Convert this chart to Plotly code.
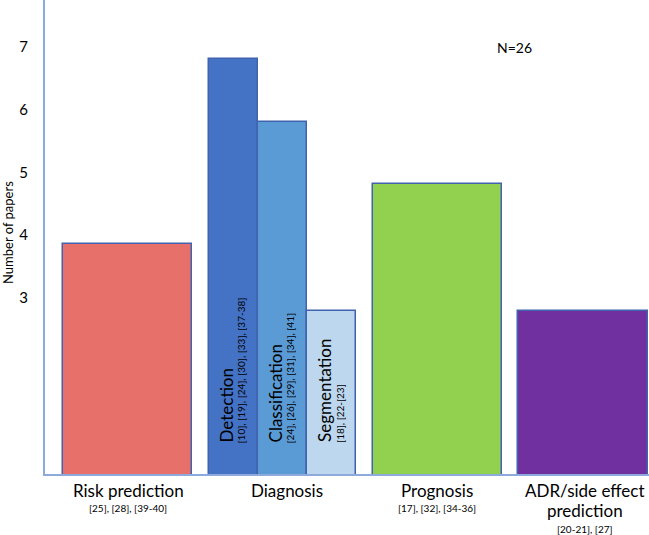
import plotly.graph_objects as go

# ---------------- data ----------------
bar_names = ["Risk prediction", "Detection", "Classification", "Segmentation",
             "Prognosis", "ADR/side effect prediction"]
bar_values = [3.86, 6.81, 5.80, 2.79, 4.82, 2.79]
bar_refs = ["[25], [28], [39-40]",
            "[10], [19], [24], [30], [33], [37-38]",
            "[24], [26], [29], [31], [34], [41]",
            "[18], [22-[23]",
            "[17], [32], [34-36]",
            "[20-21], [27]"]
group_labels = [["Risk prediction"], ["Diagnosis"], ["Prognosis"],
                ["ADR/side effect", "prediction"]]
y_ticks = [3, 4, 5, 6, 7]
y_title = "Number of papers"
note = "N=26"

# ---------------- layout / style ----------------
bar_colors = ["#E8706A", "#4472C4", "#5B9BD5", "#BDD7EE", "#92D050", "#7030A0"]
sub_w = 0.316
bar_x = [0, 1 - sub_w, 1, 1 + sub_w, 2, 2.939]
bar_w = [0.832, sub_w, sub_w, sub_w, 0.832, 0.839]
group_x = [0, 1, 2, 2.939]
FONT = "Lato, 'Open Sans', sans-serif"
Y0, Y1 = 0.195, 7.749

fig = go.Figure()
fig.add_trace(go.Bar(
    x=bar_x, y=bar_values, width=bar_w,
    marker=dict(color=bar_colors, line=dict(color="#4163AE", width=1.5)),
    hovertext=bar_names, showlegend=False,
))

ann = []
# vertical labels inside the diagnosis sub-bars
for i in (1, 2, 3):
    ann.append(dict(x=bar_x[i], y=Y0, xref="x", yref="y", text=bar_names[i],
                    textangle=-90, xanchor="center", yanchor="bottom",
                    xshift=-7, yshift=30, showarrow=False,
                    font=dict(family=FONT, size=17, color="black")))
    ann.append(dict(x=bar_x[i], y=Y0, xref="x", yref="y", text=bar_refs[i],
                    textangle=-90, xanchor="center", yanchor="bottom",
                    xshift=8, yshift=29, showarrow=False,
                    font=dict(family=FONT, size=10, color="black")))

# category labels under the axis
label_refs = [bar_refs[0], "", bar_refs[4], bar_refs[5]]
label_dx = [1, 5, 0, 2]
for gx, lines, rf, dx in zip(group_x, group_labels, label_refs, label_dx):
    for k, line in enumerate(lines):
        ann.append(dict(x=gx, y=0, xref="x", yref="paper", text=line,
                        xanchor="center", yanchor="middle", xshift=dx,
                        yshift=-16 - 20 * k, showarrow=False,
                        font=dict(family=FONT, size=17, color="black")))
    if rf:
        ann.append(dict(x=gx, y=0, xref="x", yref="paper", text=rf,
                        xanchor="center", yanchor="middle", xshift=dx,
                        yshift=-34 - 20 * (len(lines) - 1) - (1 if len(lines) > 1 else 0),
                        showarrow=False,
                        font=dict(family=FONT, size=10, color="black")))

ann.append(dict(x=2.5, y=7.0, xref="x", yref="y", text=note,
                xanchor="center", yanchor="middle", showarrow=False,
                font=dict(family=FONT, size=14, color="black")))
ann.append(dict(x=-37 / 604, y=(474 - 233) / 474, xref="paper", yref="paper",
                text=y_title, textangle=-90, xanchor="center", yanchor="middle",
                showarrow=False, font=dict(family=FONT, size=13, color="black")))

fig.update_layout(
    width=649, height=535,
    margin=dict(l=45, r=0, t=0, b=61),
    plot_bgcolor="white", paper_bgcolor="white",
    annotations=ann,
    xaxis=dict(range=[-0.532, 3.365], showgrid=False, zeroline=False,
               showticklabels=False, ticks="", showline=True,
               linecolor="#8EA9DB", linewidth=2, fixedrange=True),
    yaxis=dict(range=[Y0, Y1], tickvals=y_ticks, showgrid=False,
               zeroline=False, ticks="", showline=True,
               linecolor="#8EA9DB", linewidth=2, ticklabelstandoff=12,
               tickfont=dict(family=FONT, size=15, color="black"),
               fixedrange=True),
    bargap=0,
)

fig.write_html("out.html", config={"displayModeBar": False},
               post_script="document.body.style.margin='0';document.body.style.overflow='hidden';")
